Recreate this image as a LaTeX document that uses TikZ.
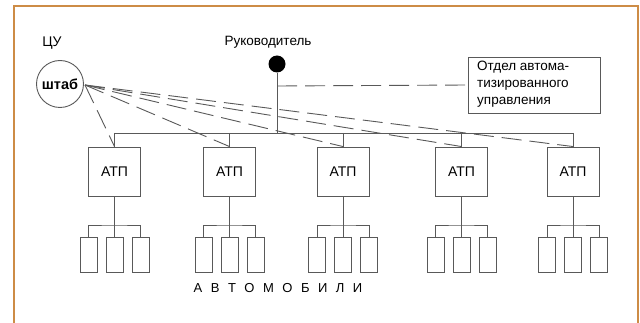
\documentclass[tikz,border=0pt]{standalone}
\usepackage{fontspec}
\setmainfont{Liberation Sans}
\begin{document}
\begin{tikzpicture}[x=1pt,y=-1pt,
  wire/.style={draw=black!65,line width=0.9pt},
  dashwire/.style={draw=black!65,line width=0.9pt,dash pattern=on 20pt off 8pt},
  atpbox/.style={draw=black!65,line width=0.9pt,minimum width=52pt,minimum height=49pt,inner sep=0pt,font=\fontsize{14}{16}\selectfont},
  carbox/.style={draw=black!65,line width=0.9pt,minimum width=17pt,minimum height=35pt,inner sep=0pt},
  lbl/.style={font=\fontsize{13.5}{16}\selectfont,inner sep=0pt}]
\useasboundingbox (0,0) rectangle (640,323);
\definecolor{framecol}{RGB}{205,140,70}
% outer frame
\begin{scope}
\clip (0,0) rectangle (640,323);
\draw[framecol,line width=1.3pt] (14,6) rectangle (638,340);
\end{scope}

% control centre
\node[lbl,font=\fontsize{14}{16}\selectfont] (cu) at (52,43) {ЦУ};
\node[circle,draw=black!65,line width=0.9pt,minimum size=47pt,inner sep=0pt,font=\fontsize{14.5}{16}\selectfont\bfseries] (hq) at (60,84) {штаб};
\coordinate (hqo) at (85,85);

% head and department
\node[lbl] (head) at (268,42) {Руководитель};
\node[circle,fill=black,minimum size=17pt,inner sep=0pt] (dot) at (277,64) {};
\node[draw=black!65,line width=0.9pt,minimum width=132pt,minimum height=56pt,inner sep=0pt] (dept) at (534,85) {};
\node[anchor=north west,align=left,inner sep=0pt,font=\fontsize{13.5}{16.7}\selectfont] (depttxt) at (477,61) {Отдел автома-\\тизированного\\управления};
\coordinate (tap) at (277,86);
\coordinate (bus) at (277,133);
\draw[wire] (dot.south) -- (bus);
\draw[dashwire] (tap) -- (dept.west);

% ATP boxes
\foreach \i/\x in {1/114.5,2/229.5,3/343,4/461.5,5/573}{
  \node[atpbox] (atp\i) at (\x,171.5) {АТП};
  \coordinate (top\i) at (\x,133);
  \draw[wire] (top\i) -- (atp\i.north);
  % cars under each ATP
  \node[carbox] (car\i a) at (\x-26,254.5) {};
  \node[carbox] (car\i b) at (\x,254.5) {};
  \node[carbox] (car\i c) at (\x+26,254.5) {};
  \coordinate (sb\i) at (\x,225);
  \draw[wire] (atp\i.south) -- (sb\i);
  \draw[wire] (car\i a.north) |- (sb\i) -| (car\i c.north);
  \draw[wire] (sb\i) -- (car\i b.north);
  \draw[dashwire] (hqo) -- (atp\i.north);
}
\draw[wire] (top1) -- (top5);

\node[font=\fontsize{13}{15}\selectfont] (cars) at (278,288) {А\hspace{8.5pt}В\hspace{8.5pt}Т\hspace{8.5pt}О\hspace{8.5pt}М\hspace{8.5pt}О\hspace{8.5pt}Б\hspace{8.5pt}И\hspace{8.5pt}Л\hspace{8.5pt}И};
\end{tikzpicture}
\end{document}
